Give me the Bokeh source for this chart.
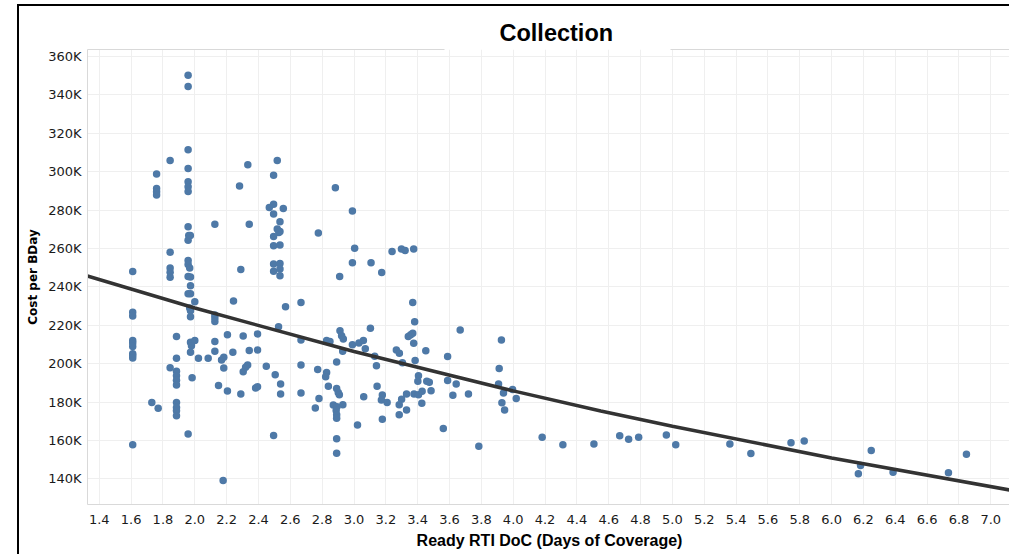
from bokeh.plotting import figure
from bokeh.models import (FixedTicker, CustomJSTickFormatter, PrintfTickFormatter,
                          Range1d, LinearAxis)
from bokeh.embed import file_html
from bokeh.resources import INLINE

# ---------------- data ----------------
chart_title = "Collection"
x_title = "Ready RTI DoC (Days of Coverage)"
y_title = "Cost per BDay"

x_ticks = [1.4, 1.6, 1.8, 2.0, 2.2, 2.4, 2.6, 2.8, 3.0, 3.2, 3.4, 3.6, 3.8, 4.0, 4.2,
           4.4, 4.6, 4.8, 5.0, 5.2, 5.4, 5.6, 5.8, 6.0, 6.2, 6.4, 6.6, 6.8, 7.0]
y_ticks = [140000, 160000, 180000, 200000, 220000, 240000, 260000, 280000,
           300000, 320000, 340000, 360000]

# Ready RTI DoC (days)
days = [
    1.61, 1.61, 1.61, 1.61, 1.61, 1.61, 1.61, 1.61, 1.61, 1.61,
    1.73, 1.77, 1.76, 1.76, 1.76, 1.76,
    1.845, 1.845, 1.845, 1.845, 1.845, 1.885, 1.885, 1.845, 1.885, 1.885,
    1.885, 1.885, 1.885, 1.885, 1.885, 1.885,
    1.958, 1.958, 1.958, 1.958, 1.958, 1.958, 1.958, 1.958, 1.962, 1.958,
    1.972, 1.958, 1.958, 1.968, 1.958, 1.973, 1.973, 1.958, 1.973, 2.0,
    1.968, 1.973, 1.973, 1.973, 2.0, 1.979, 1.973, 1.983, 1.958,
    2.023, 2.084, 2.126, 2.126, 2.126, 2.126, 2.126, 2.126, 2.149, 2.168,
    2.182, 2.182, 2.178, 2.205, 2.205, 2.239, 2.243,
    2.281, 2.289, 2.289, 2.304, 2.333, 2.342, 2.342, 2.332, 2.319, 2.304,
    2.394, 2.394, 2.382, 2.394, 2.449,
    2.518, 2.495, 2.495, 2.468, 2.495, 2.556, 2.535, 2.518, 2.535, 2.528,
    2.495, 2.495, 2.535, 2.495, 2.535, 2.495, 2.535, 2.535, 2.570, 2.526,
    2.505, 2.539, 2.539, 2.495,
    2.667, 2.667, 2.667, 2.667, 2.776, 2.772, 2.780, 2.757,
    2.883, 2.91, 2.828, 2.849, 2.912, 2.922, 2.933, 2.929, 2.891, 2.828,
    2.822, 2.839, 2.891, 2.901, 2.908, 2.87, 2.893, 2.93, 2.888, 2.891,
    2.891, 2.891, 2.891,
    2.99, 3.004, 2.99, 2.99, 3.031, 3.059, 3.071, 3.103, 3.130, 3.141,
    3.145, 3.061, 3.022, 3.107, 3.174, 3.178, 3.172, 3.208, 3.178,
    3.239, 3.298, 3.321, 3.375, 3.369, 3.381, 3.369, 3.356, 3.341, 3.375,
    3.384, 3.451, 3.266, 3.285, 3.304, 3.330, 3.299, 3.284, 3.284, 3.330,
    3.377, 3.405, 3.428, 3.426, 3.484, 3.473, 3.457, 3.405, 3.401,
    3.561, 3.588, 3.588, 3.621, 3.642, 3.667, 3.719, 3.784, 3.926, 3.912,
    3.908, 3.939, 3.996, 4.019, 3.929, 3.946, 4.182, 4.312, 4.507, 4.669,
    4.725, 4.788, 4.962, 5.021, 5.361, 5.493, 5.745, 5.828, 6.182, 6.168,
    6.249, 6.386, 6.734, 6.847,
]

# Cost per BDay (thousands)
cost_k = [
    248.0, 226.8, 224.8, 212.1, 210.7, 208.9, 205.1, 204.2, 203.0, 157.8,
    179.8, 176.8, 298.8, 291.3, 289.6, 287.9,
    305.8, 258.1, 249.9, 247.6, 245.0, 214.1, 202.8, 197.9, 196.0, 193.7,
    191.4, 188.9, 179.8, 177.2, 175.4, 172.9,
    350.3, 344.4, 311.4, 301.7, 294.8, 292.2, 289.7, 271.4, 266.8, 264.3,
    266.8, 253.7, 251.7, 249.9, 245.4, 245.2, 240.6, 236.4, 236.4, 232.3,
    229.0, 227.6, 224.5, 211.1, 212.0, 209.3, 205.9, 192.6, 163.4,
    202.8, 202.8, 272.6, 225.4, 223.8, 222.0, 211.6, 206.5, 188.6, 201.9,
    203.3, 197.7, 139.1, 215.0, 185.8, 205.9, 232.6,
    292.6, 249.0, 184.2, 214.4, 303.7, 272.6, 206.8, 199.3, 198.1, 195.8,
    215.5, 207.1, 187.3, 188.0, 198.6,
    305.8, 298.2, 283.1, 281.4, 278.0, 280.9, 273.9, 270.1, 268.9, 268.4,
    266.2, 261.4, 261.8, 251.9, 252.2, 248.1, 249.3, 245.8, 229.6, 219.2,
    194.2, 189.4, 184.2, 162.5,
    231.9, 212.3, 199.3, 184.7, 268.1, 197.0, 181.9, 176.9,
    291.7, 245.4, 212.0, 211.6, 217.2, 214.6, 212.9, 206.5, 200.9, 195.4,
    193.2, 188.2, 187.1, 185.0, 183.8, 178.4, 177.6, 178.6, 175.6, 173.4,
    171.5, 160.8, 153.3,
    279.6, 260.1, 252.6, 209.8, 210.8, 212.0, 207.7, 218.4, 203.8, 198.9,
    188.2, 182.8, 168.0, 252.6, 247.5, 183.7, 181.0, 179.8, 171.0,
    258.4, 259.7, 259.0, 259.7, 231.9, 221.8, 215.8, 215.1, 214.2, 210.6,
    201.7, 206.7, 207.1, 205.4, 200.5, 184.2, 181.5, 178.6, 173.4, 175.8,
    184.2, 183.8, 185.6, 179.4, 185.9, 190.3, 190.8, 193.7, 190.8,
    166.2, 203.7, 191.2, 183.5, 189.4, 217.5, 184.2, 156.9, 212.3, 197.5,
    189.4, 184.7, 186.5, 181.9, 179.6, 175.9, 161.6, 157.8, 158.1, 162.4,
    160.6, 161.6, 162.8, 157.8, 158.1, 153.2, 158.8, 159.7, 146.9, 142.6,
    154.7, 143.4, 143.1, 152.8,
]

# Exponential trend line at several days values
trend_days = [1.32, 2.0, 3.0, 4.0, 4.55, 5.0, 6.0, 7.13]
trend_cost_k = [245.8, 229.0, 206.3, 185.8, 175.3, 167.4, 150.8, 134.0]

cost = [c * 1000 for c in cost_k]
trend_cost = [c * 1000 for c in trend_cost_k]

# ---------------- figure ----------------
PANE = "#d9d9d9"
p = figure(width=992, height=550,
           x_range=Range1d(1.326, 7.130), y_range=Range1d(126600, 363700),
           output_backend="svg", toolbar_location=None,
           min_border_left=68, min_border_right=0,
           min_border_top=43, min_border_bottom=52,
           background_fill_color="white", border_fill_color="white")
p.margin = (4, 0, 0, 17)
p.styles = {"border-left": "2px solid #000000", "border-top": "2px solid #000000"}

p.title.text = chart_title
p.title.align = "left"
p.title.offset = 412
p.title.standoff = 8
p.title.text_font = "Liberation Sans"
p.title.text_font_size = "23.5px"
p.title.text_font_style = "bold"
p.title.text_color = "#000000"

p.outline_line_color = None

# axes
p.xaxis.ticker = FixedTicker(ticks=x_ticks)
p.xaxis.formatter = PrintfTickFormatter(format="%.1f")
p.yaxis.ticker = FixedTicker(ticks=y_ticks)
p.yaxis.formatter = CustomJSTickFormatter(code="return (tick/1000).toFixed(0) + 'K';")

for ax in (p.xaxis, p.yaxis):
    ax.axis_line_color = PANE
    ax.axis_line_width = 1
    ax.major_tick_line_color = None
    ax.minor_tick_line_color = None
    ax.major_tick_out = 0
    ax.major_tick_in = 0
    ax.major_label_text_font = "DejaVu Sans"
    ax.major_label_text_font_size = "13px"
    ax.major_label_text_color = "#1a1a1a"

p.xaxis.axis_label = x_title
p.xaxis.axis_label_text_font = "Liberation Sans"
p.xaxis.axis_label_text_font_size = "16px"
p.xaxis.axis_label_text_font_style = "bold"
p.xaxis.axis_label_text_color = "#000000"
p.xaxis.major_label_standoff = 10
p.xaxis.axis_label_standoff = 5

p.yaxis.axis_label = y_title
p.yaxis.axis_label_text_font = "DejaVu Sans"
p.yaxis.axis_label_text_font_size = "12px"
p.yaxis.axis_label_text_font_style = "bold"
p.yaxis.axis_label_text_color = "#000000"
p.yaxis.major_label_standoff = 6
p.yaxis.axis_label_standoff = 5

# pane border: top line (broken under the title) and right line
top_edge = LinearAxis(ticker=FixedTicker(ticks=[]), axis_line_color=PANE,
                      axis_line_dash="357 226 1000", major_tick_out=0, major_tick_in=0,
                      minor_tick_out=0, minor_tick_in=0, major_label_standoff=0,
                      major_tick_line_color=None, minor_tick_line_color=None)
right_edge = LinearAxis(ticker=FixedTicker(ticks=[]), axis_line_color=PANE,
                        major_tick_out=0, major_tick_in=0,
                        minor_tick_out=0, minor_tick_in=0, major_label_standoff=0,
                        major_tick_line_color=None, minor_tick_line_color=None)
p.add_layout(top_edge, "above")
p.add_layout(right_edge, "right")

p.xgrid.grid_line_color = "#efefef"
p.ygrid.grid_line_color = "#efefef"

# points
p.scatter(days, cost, size=7.5, fill_color="#4e79a7", line_color=None)

# trend line
p.line(trend_days, trend_cost, line_color="#333333", line_width=3.5)

open("out.html", "w").write(file_html(p, INLINE))
